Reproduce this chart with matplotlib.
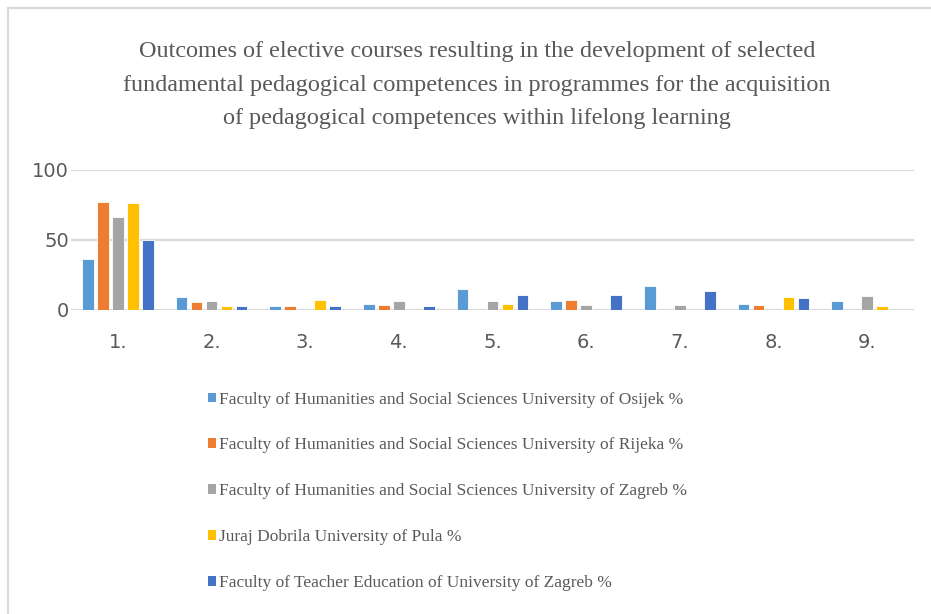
import numpy as np
import matplotlib.pyplot as plt
from matplotlib.patches import Patch
from matplotlib.lines import Line2D

categories = ["1.", "2.", "3.", "4.", "5.", "6.", "7.", "8.", "9."]
osijek = [36, 9, 2.6, 4.3, 15, 6.2, 17, 4.3, 6.2]
rijeka = [77, 5.2, 2.6, 3.3, 0, 6.9, 0, 3.3, 0]
zagreb = [66, 6.2, 0, 6.2, 6.2, 3.3, 3.3, 0, 9.8]
pula = [76, 2.6, 6.9, 0, 4.3, 0, 0, 8.8, 2.6]
teacher = [50, 2.6, 2.6, 2.6, 10.5, 10.5, 13.3, 8.1, 0]

series = [osijek, rijeka, zagreb, pula, teacher]
labels = [
    "Faculty of Humanities and Social Sciences University of Osijek %",
    "Faculty of Humanities and Social Sciences University of Rijeka %",
    "Faculty of Humanities and Social Sciences University of Zagreb %",
    "Juraj Dobrila University of Pula %",
    "Faculty of Teacher Education of University of Zagreb %",
]
colors = ["#5B9BD5", "#ED7D31", "#A5A5A5", "#FFC000", "#4472C4"]

text_gray = "#595959"
grid_gray = "#D9D9D9"

fig = plt.figure(figsize=(9.31, 6.14), dpi=100)
ax = fig.add_axes([71 / 931, 1 - 309.7 / 614, (914 - 71) / 931, 140 / 614])

x = np.arange(1, len(categories) + 1)
step = 0.16
width = 0.125
for i, (vals, c) in enumerate(zip(series, colors)):
    ax.bar(x + (i - 2) * step, vals, width, color=c, edgecolor="white", linewidth=0.6, zorder=3)

ax.set_xlim(0.5, 9.5)
ax.set_ylim(0, 100)
ax.set_yticks([0, 50, 100])
ax.set_xticks(x)
ax.set_xticklabels(categories)
ax.tick_params(length=0, labelsize=14, colors=text_gray)
ax.tick_params(axis="x", pad=17)
ax.tick_params(axis="y", pad=1.5)
ax.yaxis.grid(True, color=grid_gray, linewidth=1.6, zorder=0)
for s in ax.spines.values():
    s.set_visible(False)

fig.text(477 / 931, 1 - 85 / 614,
         "Outcomes of elective courses resulting in the development of selected\n"
         "fundamental pedagogical competences in programmes for the acquisition\n"
         "of pedagogical competences within lifelong learning",
         ha="center", va="center", fontsize=17.4, color=text_gray,
         family="Liberation Serif", linespacing=1.8)

handles = [Patch(facecolor=c, edgecolor="none") for c in colors]
leg = fig.legend(handles, labels, loc="upper left", bbox_to_anchor=(192 / 931, 1 - 376 / 614),
                 frameon=False, handlelength=0.5, handleheight=0.5, handletextpad=0.15,
                 labelspacing=1.72, prop={"family": "Liberation Serif", "size": 12.5})
for t in leg.get_texts():
    t.set_color(text_gray)

# outer frame (top and left edges only visible)
fig.add_artist(Line2D([8 / 931, 1], [1 - 8 / 614, 1 - 8 / 614], color=grid_gray, linewidth=1.5))
fig.add_artist(Line2D([8 / 931, 8 / 931], [0, 1 - 8 / 614], color=grid_gray, linewidth=1.5))

fig.savefig("out.png", dpi=100)
